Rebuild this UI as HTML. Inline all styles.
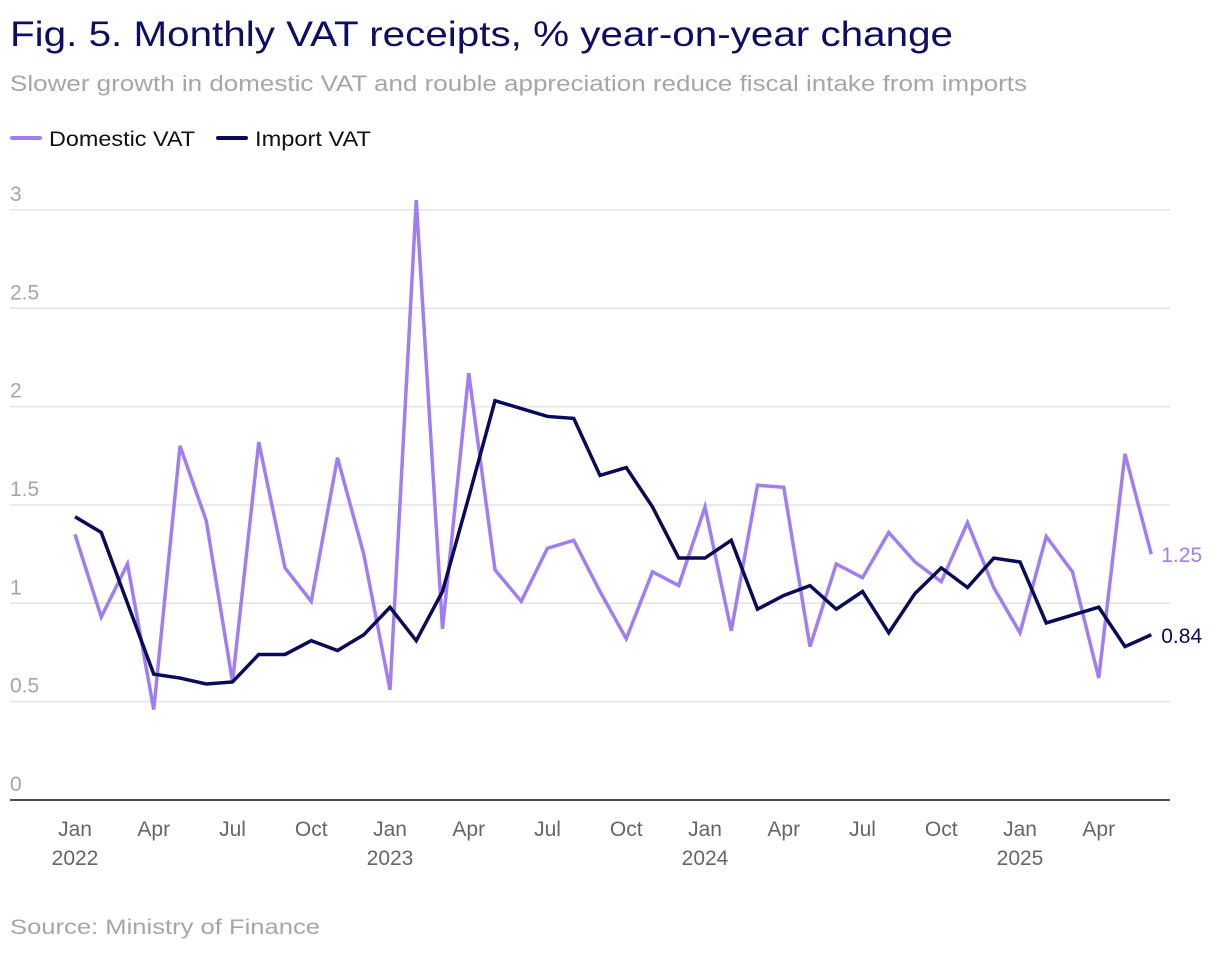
<!DOCTYPE html>
<html><head><meta charset="utf-8"><style>
body{margin:0;background:#fff;font-family:"Liberation Sans",sans-serif;}
svg text{font-family:"Liberation Sans",sans-serif;}
</style></head><body>
<svg width="1220" height="952" xmlns="http://www.w3.org/2000/svg">
<text x="10" y="46" font-size="35" fill="#0d0d66" textLength="943" lengthAdjust="spacingAndGlyphs">Fig. 5. Monthly VAT receipts, % year-on-year change</text>
<text x="10" y="91" font-size="22" fill="#a6a6a6" textLength="1017" lengthAdjust="spacingAndGlyphs">Slower growth in domestic VAT and rouble appreciation reduce fiscal intake from imports</text>
<g>
<line x1="12" y1="138" x2="40" y2="138" stroke="#a07ef2" stroke-width="4" stroke-linecap="round"/>
<text x="49" y="146" font-size="21" fill="#111" textLength="146" lengthAdjust="spacingAndGlyphs">Domestic VAT</text>
<line x1="218" y1="138" x2="246" y2="138" stroke="#0a0a5a" stroke-width="4" stroke-linecap="round"/>
<text x="255" y="146" font-size="21" fill="#111" textLength="116" lengthAdjust="spacingAndGlyphs">Import VAT</text>
</g>
<g id="grid"></g><g id="xaxis"></g><g id="series"></g>
<text x="10" y="934" font-size="21" fill="#a6a6a6" textLength="310" lengthAdjust="spacingAndGlyphs">Source: Ministry of Finance</text>
</svg>
<script>
const yTicks=[0,0.5,1,1.5,2,2.5,3];
const yTickLabels=["0","0.5","1","1.5","2","2.5","3"];
const xTickIdx=[0,3,6,9,12,15,18,21,24,27,30,33,36,39];
const xTickLabels=["Jan","Apr","Jul","Oct","Jan","Apr","Jul","Oct","Jan","Apr","Jul","Oct","Jan","Apr"];
const yearLabels=["2022","2023","2024","2025"];
const domestic=[1.35,0.93,1.2,0.46,1.8,1.42,0.6,1.82,1.18,1.01,1.74,1.25,0.56,3.05,0.87,2.17,1.17,1.01,1.28,1.32,1.06,0.82,1.16,1.09,1.49,0.86,1.6,1.59,0.78,1.2,1.13,1.36,1.21,1.11,1.41,1.08,0.85,1.34,1.16,0.62,1.76,1.25];
const importV=[1.44,1.36,1.0,0.64,0.62,0.59,0.6,0.74,0.74,0.81,0.76,0.84,0.98,0.81,1.06,1.54,2.03,1.99,1.95,1.94,1.65,1.69,1.49,1.23,1.23,1.32,0.97,1.04,1.09,0.97,1.06,0.85,1.05,1.18,1.08,1.23,1.21,0.9,0.94,0.98,0.78,0.84];
const NS="http://www.w3.org/2000/svg";
const y=v=>800-v*196.7;
const x=i=>75+i*26.25;
function mk(t,a,p){const e=document.createElementNS(NS,t);for(const k in a)e.setAttribute(k,a[k]);p.appendChild(e);return e;}
const g=document.getElementById('grid');
yTicks.forEach((v,i)=>{
 if(v>0){const l=mk('line',{x1:10,x2:1170,y1:y(v),y2:y(v),stroke:'#e3e3e3','stroke-width':1.5},g);
 
 }
 const t=mk('text',{x:10,y:y(v)-9,'font-size':21,fill:'#a6a6a6'},g);t.textContent=yTickLabels[i];
 
 
});
const xa=document.getElementById('xaxis');
const ax=mk('line',{x1:10,x2:1170,y1:800,y2:800,stroke:'#111','stroke-width':1.5},xa);


xTickIdx.forEach((idx,i)=>{
 const t=mk('text',{x:x(idx),y:836,'font-size':21,fill:'#666','text-anchor':'middle'},xa);t.textContent=xTickLabels[i];
 
 
});
yearLabels.forEach((yr,i)=>{
 const t=mk('text',{x:x(i*12),y:865,'font-size':21,fill:'#666','text-anchor':'middle'},xa);t.textContent=yr;
 
 
});
const s=document.getElementById('series');
function line(data,color,name){
 const p=mk('path',{d:data.map((v,i)=>(i?'L':'M')+x(i)+','+y(v)).join(''),fill:'none',stroke:color,'stroke-width':3.5,'stroke-linejoin':'miter'},s);
 
 
 const last=data.length-1;
 const t=mk('text',{x:x(last)+10,y:y(data[last])+8,'font-size':21,fill:color},s);t.textContent=data[last].toFixed(2);
 
 
}
line(domestic,'#a07ef2','domestic-vat');
line(importV,'#0a0a5a','import-vat');
</script>
</body></html>
